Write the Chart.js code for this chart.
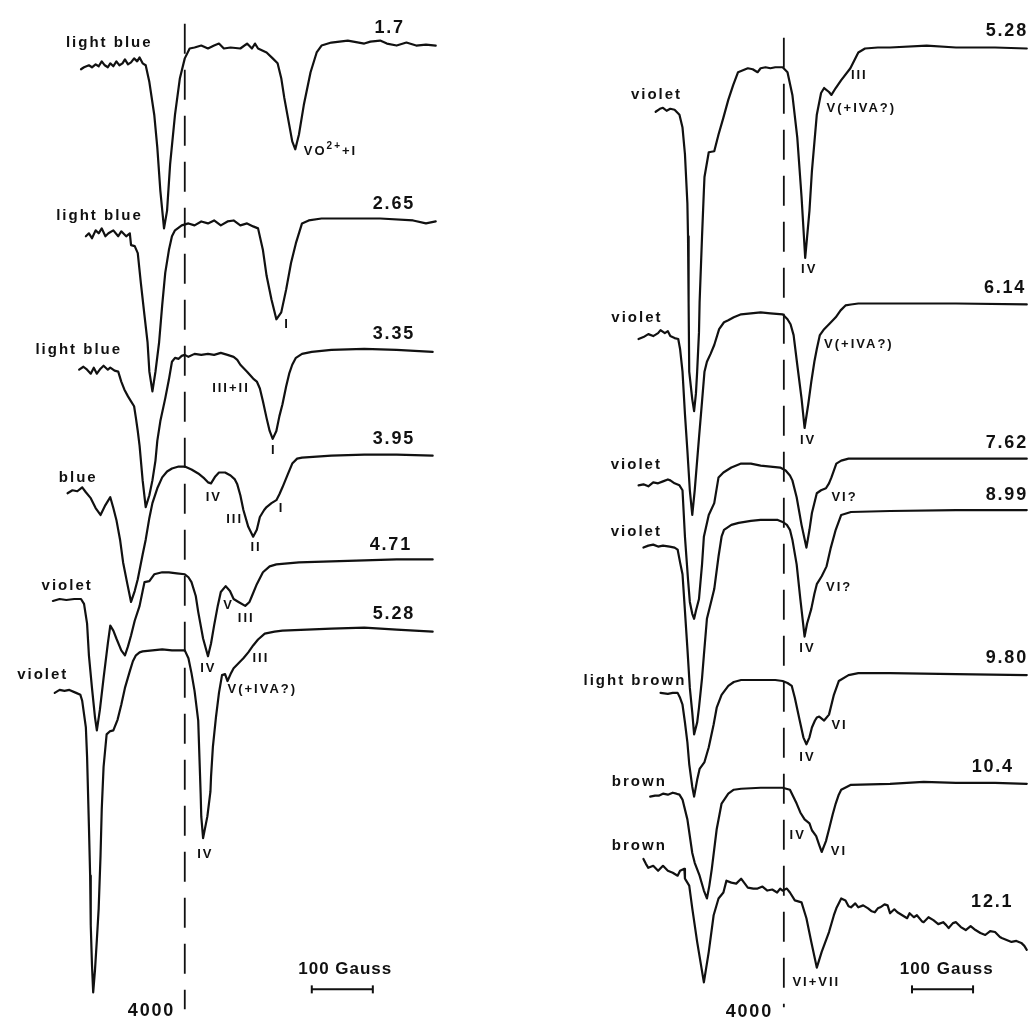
<!DOCTYPE html>
<html>
<head>
<meta charset="utf-8">
<script src="https://cdn.jsdelivr.net/npm/chart.js@4.4.1/dist/chart.umd.min.js"></script>
<style>
  html, body { margin: 0; padding: 0; background: #fff; }
  #wrap { position: relative; width: 1034px; height: 1026px; overflow: hidden; }
  #left { position: absolute; left: 0; top: 0; }
  #right { position: absolute; left: 520px; top: 0; }
</style>
</head>
<body>
<div id="wrap">
  <canvas id="left" width="520" height="1026"></canvas>
  <canvas id="right" width="514" height="1026"></canvas>
</div>
<script>
// ESR spectra, field in Gauss (x) vs pen position of each trace (y, arbitrary units, top = 0)
// left panel
var pH1_7 = [[3830,64],[3835,62],[3843,60],[3848,62],[3854,59],[3859,61],[3864,56],[3869,60],[3874,62],[3878,58],
  [3883,61],[3888,56],[3893,60],[3898,58],[3902,54],[3907,59],[3912,57],[3917,53],[3922,56],[3926,52],
  [3931,58],[3936,60],[3942,77],[3950,110],[3955,143],[3960,187],[3966,225],[3971,207],[3976,160],[3984,110],
  [3992,73],[4000,53],[4008,43],[4016,42],[4027,40],[4038,43],[4048,40],[4056,38],[4064,43],[4075,42],
  [4091,43],[4102,38],[4110,43],[4115,38],[4120,43],[4134,47],[4144,53],[4152,58],[4158,73],[4163,93],
  [4171,120],[4176,137],[4181,145],[4187,130],[4195,100],[4206,67],[4216,47],[4224,40],[4240,37],[4267,35],
  [4294,38],[4304,36],[4320,35],[4331,38],[4347,40],[4363,37],[4379,40],[4395,39],[4411,40]];
var pH2_65 = [[3838,233],[3843,230],[3848,235],[3854,227],[3859,230],[3864,225],[3870,233],[3875,230],[3883,227],[3891,233],
  [3896,228],[3904,233],[3910,230],[3912,242],[3918,243],[3923,250],[3928,280],[3934,313],[3939,340],[3942,370],
  [3947,390],[3952,370],[3958,340],[3963,303],[3968,270],[3974,247],[3979,233],[3984,227],[3995,222],[4006,220],
  [4016,222],[4027,218],[4038,220],[4048,217],[4059,222],[4070,218],[4080,217],[4091,222],[4102,220],[4112,223],
  [4120,225],[4128,247],[4134,273],[4142,297],[4150,317],[4158,310],[4166,287],[4174,260],[4182,240],[4192,220],
  [4203,217],[4224,215],[4267,215],[4320,215],[4374,217],[4395,220],[4411,218]];
var pH3_35 = [[3827,368],[3834,365],[3840,368],[3846,372],[3851,366],[3856,372],[3862,367],[3867,364],[3874,368],[3878,366],
  [3885,369],[3891,370],[3896,380],[3901,388],[3907,395],[3912,400],[3917,405],[3920,417],[3923,430],[3926,445],
  [3931,480],[3936,507],[3942,495],[3947,480],[3952,460],[3955,440],[3960,420],[3968,397],[3974,378],[3979,360],
  [3984,356],[3990,357],[3995,354],[4000,353],[4006,355],[4016,352],[4027,353],[4038,352],[4048,353],[4059,351],
  [4070,353],[4080,355],[4086,358],[4091,363],[4102,370],[4112,377],[4118,380],[4123,387],[4128,400],[4134,417],
  [4139,430],[4144,438],[4150,430],[4155,415],[4160,403],[4166,385],[4171,372],[4176,363],[4182,356],[4192,352],
  [4208,350],[4240,348],[4294,347],[4347,348],[4406,350]];
var pH3_95 = [[3808,493],[3816,490],[3824,491],[3832,487],[3838,492],[3846,498],[3854,508],[3862,515],[3870,505],[3878,497],
  [3883,508],[3888,520],[3894,540],[3899,563],[3906,585],[3912,603],[3918,592],[3923,580],[3931,555],[3936,540],
  [3942,518],[3947,503],[3955,488],[3963,477],[3971,471],[3979,468],[3990,466],[4000,466],[4011,469],[4022,473],
  [4032,478],[4038,482],[4043,483],[4050,476],[4056,472],[4066,472],[4075,475],[4082,479],[4086,484],[4091,495],
  [4096,510],[4104,527],[4112,537],[4118,530],[4123,517],[4130,510],[4134,507],[4142,503],[4150,500],[4155,494],
  [4160,487],[4168,475],[4176,463],[4184,458],[4192,457],[4240,455],[4294,454],[4347,454],[4406,455]];
var pH4_71 = [[3784,602],[3795,600],[3806,601],[3819,600],[3830,600],[3835,605],[3840,625],[3843,657],[3848,690],[3853,720],
  [3856,733],[3861,712],[3867,680],[3874,645],[3878,627],[3883,632],[3888,640],[3896,652],[3902,657],[3907,648],
  [3912,637],[3918,622],[3926,607],[3931,592],[3934,583],[3942,582],[3950,575],[3963,573],[3974,573],[3987,574],
  [4000,575],[4006,578],[4011,583],[4018,597],[4022,613],[4030,640],[4038,658],[4043,645],[4048,627],[4054,607],
  [4059,593],[4067,587],[4074,592],[4080,600],[4088,603],[4099,607],[4106,603],[4110,597],[4118,585],[4128,573],
  [4139,567],[4150,565],[4187,563],[4240,562],[4294,561],[4347,560],[4406,560]];
var pH5_28 = [[3787,695],[3795,692],[3803,693],[3811,692],[3822,695],[3829,697],[3832,703],[3838,730],[3840,760],[3843,830],
  [3845,880],[3846,930],[3848,970],[3850,998],[3853,975],[3856,945],[3859,913],[3862,860],[3864,813],[3867,770],
  [3872,737],[3877,734],[3883,733],[3890,722],[3896,707],[3902,690],[3910,673],[3915,663],[3920,657],[3926,654],
  [3931,653],[3947,652],[3963,651],[3979,652],[4000,652],[4006,660],[4011,675],[4016,693],[4019,708],[4022,723],
  [4024,760],[4026,797],[4027,820],[4030,842],[4037,820],[4042,795],[4043,780],[4046,750],[4051,720],[4056,695],
  [4061,677],[4066,676],[4070,683],[4075,676],[4080,670],[4088,665],[4096,660],[4104,654],[4112,647],[4120,641],
  [4131,635],[4147,633],[4160,632],[4240,630],[4294,629],[4347,631],[4406,633]];

// right panel
var pH5_28b = [[3790,107],[3797,104],[3802,103],[3808,106],[3814,104],[3821,105],[3829,110],[3834,123],[3838,150],[3842,200],
  [3843,233],[3844,300],[3845,370],[3850,398],[3853,410],[3856,392],[3858,370],[3861,330],[3862,300],[3866,233],
  [3869,187],[3870,173],[3877,148],[3886,147],[3893,130],[3901,113],[3909,95],[3917,80],[3925,67],[3933,65],
  [3941,63],[3949,64],[3957,67],[3962,63],[3970,62],[3978,63],[3986,62],[3998,62],[4006,67],[4014,90],
  [4022,133],[4029,193],[4035,255],[4042,207],[4046,167],[4054,110],[4061,88],[4066,83],[4074,87],[4078,90],
  [4085,83],[4094,75],[4109,63],[4122,47],[4133,43],[4154,42],[4174,42],[4234,40],[4282,42],[4346,42],[4398,43]];
var pH6_14 = [[3762,337],[3770,335],[3778,332],[3786,334],[3794,331],[3798,328],[3805,331],[3810,329],[3814,334],[3821,336],
  [3827,337],[3830,347],[3834,370],[3838,413],[3842,450],[3846,490],[3850,515],[3854,490],[3861,437],[3866,400],
  [3870,370],[3874,360],[3880,352],[3886,343],[3894,327],[3902,320],[3909,318],[3918,315],[3930,312],[3946,311],
  [3962,310],[3978,311],[3998,312],[4006,317],[4011,322],[4016,333],[4022,363],[4029,397],[4034,427],[4040,403],
  [4045,380],[4050,360],[4054,347],[4059,333],[4066,327],[4074,322],[4085,315],[4093,308],[4101,303],[4110,302],
  [4122,301],[4174,301],[4282,301],[4398,302]];
var pH7_62 = [[3762,485],[3770,484],[3778,486],[3786,482],[3794,483],[3802,481],[3810,479],[3814,480],[3821,483],[3829,485],
  [3834,490],[3838,537],[3843,580],[3846,603],[3850,615],[3853,620],[3856,612],[3861,600],[3866,565],[3869,537],
  [3877,515],[3886,503],[3893,477],[3901,472],[3914,467],[3930,463],[3946,463],[3962,465],[3978,466],[3994,467],
  [4003,470],[4010,475],[4014,480],[4021,497],[4029,525],[4037,548],[4042,530],[4046,513],[4054,493],[4061,490],
  [4069,488],[4074,483],[4078,477],[4086,463],[4094,460],[4106,458],[4174,458],[4282,458],[4398,458]];
var pH8_99 = [[3770,548],[3778,546],[3786,545],[3794,547],[3802,546],[3813,547],[3821,548],[3826,550],[3830,563],[3834,575],
  [3837,603],[3842,650],[3846,690],[3850,715],[3853,737],[3858,725],[3861,710],[3866,680],[3869,657],[3874,620],
  [3882,600],[3886,590],[3893,557],[3898,537],[3902,530],[3914,525],[3926,523],[3946,521],[3962,520],[3978,520],
  [3990,520],[3998,522],[4005,525],[4010,530],[4014,540],[4021,565],[4027,600],[4034,638],[4038,625],[4045,610],
  [4050,595],[4054,585],[4062,577],[4070,567],[4077,548],[4085,530],[4094,515],[4110,512],[4174,511],[4282,510],[4398,510]];
var pH9_80 = [[3798,695],[3810,696],[3818,695],[3826,695],[3830,700],[3834,707],[3838,725],[3842,745],[3845,767],[3850,790],
  [3853,800],[3858,783],[3862,772],[3870,765],[3877,750],[3885,727],[3890,710],[3898,697],[3909,688],[3918,684],
  [3930,682],[3962,682],[3986,682],[3998,683],[4006,685],[4013,688],[4018,700],[4026,723],[4032,740],[4037,747],
  [4042,740],[4046,730],[4051,723],[4054,720],[4058,719],[4062,721],[4066,723],[4074,717],[4082,697],[4090,683],
  [4106,677],[4122,675],[4174,675],[4282,676],[4398,677]];
var pH10_4 = [[3781,800],[3789,799],[3795,799],[3802,797],[3810,798],[3818,796],[3824,797],[3829,798],[3834,803],[3842,823],
  [3850,857],[3854,867],[3862,880],[3869,895],[3874,903],[3878,890],[3882,873],[3890,833],[3898,807],[3909,797],
  [3918,793],[3930,792],[3962,791],[3986,791],[3998,791],[4010,793],[4021,807],[4027,816],[4034,823],[4042,827],
  [4046,834],[4053,840],[4058,849],[4062,856],[4069,845],[4074,833],[4080,818],[4085,807],[4090,798],[4094,793],
  [4110,788],[4174,787],[4229,785],[4282,786],[4346,786],[4398,787]];
var pH12_1 = [[3770,863],[3774,868],[3778,872],[3786,870],[3794,875],[3802,870],[3810,875],[3818,877],[3826,880],[3830,875],
  [3837,873],[3838,883],[3845,890],[3850,913],[3858,947],[3869,988],[3877,957],[3885,920],[3893,903],[3901,897],
  [3906,885],[3914,887],[3922,888],[3930,883],[3941,892],[3950,893],[3957,893],[3965,891],[3973,895],[3981,894],
  [3989,897],[3994,893],[3998,895],[4005,893],[4010,897],[4018,905],[4029,907],[4037,923],[4045,947],[4054,973],
  [4062,957],[4074,937],[4082,920],[4086,913],[4094,903],[4101,905],[4106,911],[4110,912],[4117,908],[4122,912],
  [4130,910],[4138,913],[4144,916],[4149,917],[4154,913],[4158,912],[4165,909],[4170,910],[4174,918],[4181,914],
  [4186,917],[4194,920],[4202,923],[4206,918],[4213,922],[4218,920],[4226,926],[4229,927],[4237,922],[4245,925],
  [4253,929],[4261,927],[4266,930],[4270,933],[4277,928],[4282,927],[4290,932],[4298,935],[4306,931],[4314,935],
  [4322,938],[4330,940],[4338,936],[4346,937],[4354,942],[4357,943],[4365,945],[4373,947],[4381,946],[4389,948],
  [4394,951],[4398,955]];

// reference field (dashed line) and 100 Gauss bar
var refField = 4000;
var refSpanLeft = [18, 1015];
var refSpanRight = [32, 1013];
var barLeft = [4208, 4308];
var barRight = [4210, 4310];
var barLevel = 995;

// field windows of the two panels
var leftRange = [3707.2, 4539.2];
var rightRange = [3577.6, 4400];

var leftLabels = [
  {text: 'light blue', x: 3944, y: 37, align: 'right', kind: 'color'},
  {text: '1.7', x: 4334, y: 22, kind: 'value'},
  {text: 'VO^{2+}+I', x: 4195, y: 147, align: 'left', kind: 'peak'},
  {text: 'light blue', x: 3928, y: 212, align: 'right', kind: 'color'},
  {text: '2.65', x: 4341, y: 200, kind: 'value'},
  {text: 'I', x: 4166, y: 322, kind: 'peak'},
  {text: 'light blue', x: 3894, y: 348, align: 'right', kind: 'color'},
  {text: '3.35', x: 4341, y: 332, kind: 'value'},
  {text: 'III+II', x: 4074, y: 387, kind: 'peak'},
  {text: 'I', x: 4144, y: 450, kind: 'peak'},
  {text: '3.95', x: 4341, y: 438, kind: 'value'},
  {text: 'blue', x: 3854, y: 477, align: 'right', kind: 'color'},
  {text: 'IV', x: 4046, y: 497, kind: 'peak'},
  {text: 'III', x: 4080, y: 520, kind: 'peak'},
  {text: 'I', x: 4157, y: 508, kind: 'peak'},
  {text: 'II', x: 4115, y: 548, kind: 'peak'},
  {text: '4.71', x: 4336, y: 545, kind: 'value'},
  {text: 'violet', x: 3846, y: 587, align: 'right', kind: 'color'},
  {text: 'V', x: 4070, y: 607, kind: 'peak'},
  {text: 'III', x: 4099, y: 620, kind: 'peak'},
  {text: 'IV', x: 4037, y: 670, kind: 'peak'},
  {text: '5.28', x: 4341, y: 615, kind: 'value'},
  {text: 'III', x: 4123, y: 660, kind: 'peak'},
  {text: 'V(+IVA?)', x: 4070, y: 692, align: 'left', kind: 'peak'},
  {text: 'violet', x: 3806, y: 677, align: 'right', kind: 'color'},
  {text: 'IV', x: 4032, y: 858, kind: 'peak'},
  {text: '4000', x: 3944, y: 1017, kind: 'value'},
  {text: '100 Gauss', x: 4262, y: 975, kind: 'axis'}
];

var rightLabels = [
  {text: 'violet', x: 3830, y: 90, align: 'right', kind: 'color'},
  {text: '5.28', x: 4397, y: 25, align: 'right', kind: 'value'},
  {text: 'III', x: 4122, y: 70, kind: 'peak'},
  {text: 'V(+IVA?)', x: 4070, y: 104, align: 'left', kind: 'peak'},
  {text: 'IV', x: 4040, y: 267, kind: 'peak'},
  {text: '6.14', x: 4394, y: 285, align: 'right', kind: 'value'},
  {text: 'violet', x: 3798, y: 316, align: 'right', kind: 'color'},
  {text: 'V(+IVA?)', x: 4066, y: 342, align: 'left', kind: 'peak'},
  {text: 'IV', x: 4038, y: 440, kind: 'peak'},
  {text: '7.62', x: 4397, y: 442, align: 'right', kind: 'value'},
  {text: 'violet', x: 3797, y: 464, align: 'right', kind: 'color'},
  {text: 'VI?', x: 4078, y: 497, align: 'left', kind: 'peak'},
  {text: '8.99', x: 4397, y: 495, align: 'right', kind: 'value'},
  {text: 'violet', x: 3797, y: 532, align: 'right', kind: 'color'},
  {text: 'VI?', x: 4069, y: 588, align: 'left', kind: 'peak'},
  {text: 'IV', x: 4037, y: 650, kind: 'peak'},
  {text: '9.80', x: 4397, y: 660, align: 'right', kind: 'value'},
  {text: 'light brown', x: 3837, y: 683, align: 'right', kind: 'color'},
  {text: 'VI', x: 4078, y: 728, align: 'left', kind: 'peak'},
  {text: 'IV', x: 4037, y: 760, kind: 'peak'},
  {text: '10.4', x: 4374, y: 770, align: 'right', kind: 'value'},
  {text: 'brown', x: 3805, y: 785, align: 'right', kind: 'color'},
  {text: 'IV', x: 4021, y: 839, kind: 'peak'},
  {text: 'VI', x: 4077, y: 855, align: 'left', kind: 'peak'},
  {text: 'brown', x: 3805, y: 850, align: 'right', kind: 'color'},
  {text: '12.1', x: 4373, y: 907, align: 'right', kind: 'value'},
  {text: 'VI+VII', x: 4014, y: 988, align: 'left', kind: 'peak'},
  {text: '100 Gauss', x: 4266, y: 975, kind: 'axis'},
  {text: '4000', x: 3942, y: 1018, kind: 'value'}
];

var labelStyles = {
  color: {size: 15, spacing: 2},
  value: {size: 18, spacing: 1.8},
  peak:  {size: 13, spacing: 2},
  axis:  {size: 17, spacing: 1}
};
var ink = '#111';

function fontOf(size)
{
    return 'bold ' + size + 'px "Liberation Sans", Arial, sans-serif';
}

// draws the labels in field / trace units, superscripts written as ^{..}
var panelText = {
    id: 'panelText',
    afterDatasetsDraw: function(chart, args, opts) {
        var ctx = chart.ctx;
        var xs = chart.scales.x, ys = chart.scales.y;
        ctx.save();
        ctx.fillStyle = ink;
        ctx.textBaseline = 'middle';
        ctx.textAlign = 'left';
        opts.items.forEach(function(lab) {
            var st = labelStyles[lab.kind];
            var parts = lab.text.split(/(\^\{[^}]*\})/).filter(Boolean).map(function(s) {
                return s.indexOf('^{') === 0 ? {t: s.slice(2, -1), sup: true} : {t: s, sup: false};
            });
            ctx.letterSpacing = st.spacing + 'px';
            var w = 0;
            parts.forEach(function(p) {
                ctx.font = fontOf(p.sup ? Math.round(st.size * 0.75) : st.size);
                p.w = ctx.measureText(p.t).width;
                w += p.w;
            });
            w -= st.spacing;
            var x = xs.getPixelForValue(lab.x);
            var y = ys.getPixelForValue(lab.y);
            if (lab.align === 'right') x -= w;
            else if (lab.align !== 'left') x -= w / 2;
            parts.forEach(function(p) {
                ctx.font = fontOf(p.sup ? Math.round(st.size * 0.75) : st.size);
                ctx.fillText(p.t, x, p.sup ? y - st.size * 0.4 : y);
                x += p.w;
            });
        });
        ctx.restore();
    }
};

function toPoints(pairs)
{
    return pairs.map(function(p) { return {x: p[0], y: p[1]}; });
}

function makePanel(dest, traces, refSpan, bar, labels, range)
{
    var datasets = [];
    // dashed 4000 G marker first, so the traces sit on top
    datasets.push({
        data: [{x: refField, y: refSpan[0]}, {x: refField, y: refSpan[1]}],
        borderColor: ink, borderWidth: 1.8, borderDash: [30, 16],
        pointRadius: 0, showLine: true, clip: false
    });
    for (let i = 0; i < traces.length; i++) {
        datasets.push({
            data: toPoints(traces[i]),
            borderColor: ink, borderWidth: 2.2, borderJoinStyle: 'round', borderCapStyle: 'round',
            pointRadius: 0, showLine: true, tension: 0, clip: false
        });
    }
    datasets.push({
        data: [{x: bar[0], y: barLevel}, {x: bar[1], y: barLevel}],
        borderColor: ink, borderWidth: 2,
        pointStyle: 'line', rotation: 90, pointRadius: 4, pointBorderWidth: 2,
        pointBorderColor: ink, showLine: true, clip: false
    });

    const ctx = document.getElementById(dest).getContext("2d");
    return new Chart(ctx, {
        type: 'scatter',
        data: { datasets: datasets },
        options: {
            responsive: false,
            animation: false,
            layout: { padding: 0 },
            scales: {
                x: { type: 'linear', display: false, min: range[0], max: range[1] },
                y: { type: 'linear', display: false, reverse: true, min: 0, max: 1026 }
            },
            plugins: {
                legend: { display: false },
                tooltip: { enabled: false },
                panelText: { items: labels }
            }
        },
        plugins: [panelText]
    });
}

makePanel('left', [pH1_7, pH2_65, pH3_35, pH3_95, pH4_71, pH5_28], refSpanLeft, barLeft, leftLabels, leftRange);
makePanel('right', [pH5_28b, pH6_14, pH7_62, pH8_99, pH9_80, pH10_4, pH12_1], refSpanRight, barRight, rightLabels, rightRange);
</script>
</body>
</html>
